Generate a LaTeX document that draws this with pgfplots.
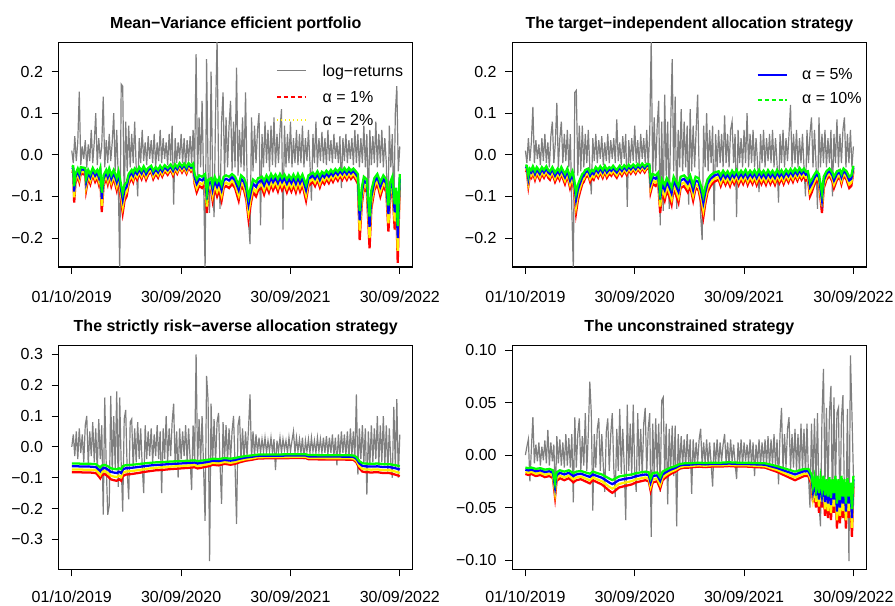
\documentclass[border=0pt]{standalone}
\usepackage{fontspec}
\setmainfont{Liberation Sans}
\usepackage{pgfplots}
\usepackage{pgfplotstable}
\pgfplotsset{compat=1.18}
\definecolor{lrgray}{HTML}{7F7F7F}
\tikzset{legtxt/.style={anchor=west, inner sep=0pt, text height=8.6pt, text depth=0pt, font=\fontsize{12}{14}\selectfont}}

\pgfplotstableread{
d r y b g
0 -0.040 -0.0356 -0.0308 -0.0264
5 -0.042 -0.0374 -0.0323 -0.0277
8 -0.115 -0.1024 -0.0886 -0.0759
12 -0.070 -0.0623 -0.0539 -0.0462
20 -0.050 -0.0445 -0.0385 -0.0330
25 -0.065 -0.0579 -0.0501 -0.0429
30 -0.045 -0.0401 -0.0347 -0.0297
45 -0.048 -0.0427 -0.0370 -0.0317
48 -0.085 -0.0757 -0.0655 -0.0561
55 -0.055 -0.0490 -0.0424 -0.0363
62 -0.070 -0.0623 -0.0539 -0.0462
70 -0.048 -0.0427 -0.0370 -0.0317
78 -0.065 -0.0579 -0.0501 -0.0429
85 -0.055 -0.0490 -0.0424 -0.0363
90 -0.070 -0.0623 -0.0539 -0.0462
95 -0.050 -0.0445 -0.0385 -0.0330
100 -0.138 -0.1228 -0.1063 -0.0911
106 -0.075 -0.0668 -0.0578 -0.0495
115 -0.055 -0.0490 -0.0424 -0.0363
120 -0.070 -0.0623 -0.0539 -0.0462
125 -0.050 -0.0445 -0.0385 -0.0330
132 -0.075 -0.0668 -0.0578 -0.0495
140 -0.055 -0.0490 -0.0424 -0.0363
145 -0.070 -0.0623 -0.0539 -0.0462
150 -0.085 -0.0757 -0.0655 -0.0561
156 -0.060 -0.0534 -0.0462 -0.0396
163 -0.100 -0.0890 -0.0770 -0.0660
170 -0.140 -0.1246 -0.1078 -0.0924
176 -0.110 -0.0979 -0.0847 -0.0726
183 -0.100 -0.0890 -0.0770 -0.0660
190 -0.070 -0.0623 -0.0539 -0.0462
200 -0.055 -0.0490 -0.0424 -0.0363
205 -0.065 -0.0579 -0.0501 -0.0429
210 -0.050 -0.0445 -0.0385 -0.0330
218 -0.060 -0.0534 -0.0462 -0.0396
225 -0.045 -0.0401 -0.0347 -0.0297
233 -0.058 -0.0516 -0.0447 -0.0383
240 -0.042 -0.0374 -0.0323 -0.0277
248 -0.060 -0.0534 -0.0462 -0.0396
255 -0.048 -0.0427 -0.0370 -0.0317
265 -0.040 -0.0356 -0.0308 -0.0264
272 -0.058 -0.0516 -0.0447 -0.0383
280 -0.045 -0.0401 -0.0347 -0.0297
288 -0.055 -0.0490 -0.0424 -0.0363
295 -0.040 -0.0356 -0.0308 -0.0264
302 -0.052 -0.0463 -0.0400 -0.0343
310 -0.038 -0.0338 -0.0293 -0.0251
320 -0.048 -0.0427 -0.0370 -0.0317
330 -0.035 -0.0312 -0.0270 -0.0231
338 -0.050 -0.0445 -0.0385 -0.0330
345 -0.035 -0.0312 -0.0270 -0.0231
352 -0.045 -0.0401 -0.0347 -0.0297
360 -0.030 -0.0267 -0.0231 -0.0198
368 -0.042 -0.0374 -0.0323 -0.0277
375 -0.032 -0.0285 -0.0246 -0.0211
383 -0.045 -0.0401 -0.0347 -0.0297
390 -0.030 -0.0267 -0.0231 -0.0198
398 -0.040 -0.0356 -0.0308 -0.0264
405 -0.032 -0.0285 -0.0246 -0.0211
410 -0.070 -0.0623 -0.0539 -0.0462
417 -0.090 -0.0801 -0.0693 -0.0594
425 -0.075 -0.0668 -0.0578 -0.0495
435 -0.080 -0.0712 -0.0616 -0.0528
445 -0.070 -0.0623 -0.0539 -0.0462
451 -0.140 -0.1246 -0.1078 -0.0924
456 -0.090 -0.0801 -0.0693 -0.0594
465 -0.085 -0.0757 -0.0655 -0.0561
470 -0.110 -0.0979 -0.0847 -0.0726
477 -0.080 -0.0712 -0.0616 -0.0528
485 -0.100 -0.0890 -0.0770 -0.0660
492 -0.085 -0.0757 -0.0655 -0.0561
500 -0.110 -0.0979 -0.0847 -0.0726
507 -0.080 -0.0712 -0.0616 -0.0528
515 -0.075 -0.0668 -0.0578 -0.0495
525 -0.080 -0.0712 -0.0616 -0.0528
535 -0.070 -0.0623 -0.0539 -0.0462
545 -0.080 -0.0712 -0.0616 -0.0528
557 -0.110 -0.0979 -0.0847 -0.0726
565 -0.075 -0.0668 -0.0578 -0.0495
575 -0.085 -0.0757 -0.0655 -0.0561
583 -0.110 -0.0979 -0.0847 -0.0726
590 -0.155 -0.1380 -0.1194 -0.1023
597 -0.120 -0.1068 -0.0924 -0.0792
605 -0.090 -0.0801 -0.0693 -0.0594
615 -0.100 -0.0890 -0.0770 -0.0660
622 -0.085 -0.0757 -0.0655 -0.0561
635 -0.080 -0.0712 -0.0616 -0.0528
642 -0.095 -0.0846 -0.0732 -0.0627
650 -0.075 -0.0668 -0.0578 -0.0495
658 -0.090 -0.0801 -0.0693 -0.0594
665 -0.070 -0.0623 -0.0539 -0.0462
672 -0.085 -0.0757 -0.0655 -0.0561
680 -0.072 -0.0641 -0.0554 -0.0475
688 -0.088 -0.0783 -0.0678 -0.0581
695 -0.070 -0.0623 -0.0539 -0.0462
702 -0.085 -0.0757 -0.0655 -0.0561
710 -0.072 -0.0641 -0.0554 -0.0475
718 -0.090 -0.0801 -0.0693 -0.0594
725 -0.075 -0.0668 -0.0578 -0.0495
733 -0.088 -0.0783 -0.0678 -0.0581
740 -0.072 -0.0641 -0.0554 -0.0475
748 -0.090 -0.0801 -0.0693 -0.0594
755 -0.070 -0.0623 -0.0539 -0.0462
762 -0.088 -0.0783 -0.0678 -0.0581
770 -0.072 -0.0641 -0.0554 -0.0475
782 -0.110 -0.0979 -0.0847 -0.0726
790 -0.075 -0.0668 -0.0578 -0.0495
805 -0.065 -0.0579 -0.0501 -0.0429
812 -0.075 -0.0668 -0.0578 -0.0495
820 -0.060 -0.0534 -0.0462 -0.0396
828 -0.078 -0.0694 -0.0601 -0.0515
835 -0.062 -0.0552 -0.0477 -0.0409
843 -0.070 -0.0623 -0.0539 -0.0462
850 -0.058 -0.0516 -0.0447 -0.0383
858 -0.068 -0.0605 -0.0524 -0.0449
865 -0.055 -0.0490 -0.0424 -0.0363
872 -0.065 -0.0579 -0.0501 -0.0429
880 -0.052 -0.0463 -0.0400 -0.0343
888 -0.062 -0.0552 -0.0477 -0.0409
895 -0.050 -0.0445 -0.0385 -0.0330
903 -0.060 -0.0534 -0.0462 -0.0396
910 -0.048 -0.0427 -0.0370 -0.0317
918 -0.060 -0.0534 -0.0462 -0.0396
925 -0.048 -0.0427 -0.0370 -0.0317
932 -0.058 -0.0516 -0.0447 -0.0383
940 -0.050 -0.0445 -0.0385 -0.0330
948 -0.060 -0.0534 -0.0462 -0.0396
955 -0.070 -0.0623 -0.0539 -0.0462
961 -0.205 -0.1825 -0.1579 -0.1353
968 -0.120 -0.1068 -0.0924 -0.0792
975 -0.080 -0.0712 -0.0616 -0.0528
985 -0.090 -0.0801 -0.0693 -0.0594
994 -0.225 -0.2003 -0.1733 -0.1485
1000 -0.130 -0.1157 -0.1001 -0.0858
1010 -0.085 -0.0757 -0.0655 -0.0561
1020 -0.070 -0.0623 -0.0539 -0.0462
1030 -0.100 -0.0890 -0.0770 -0.0660
1040 -0.075 -0.0668 -0.0578 -0.0495
1050 -0.090 -0.0801 -0.0693 -0.0594
1057 -0.185 -0.1647 -0.1425 -0.1221
1063 -0.100 -0.0890 -0.0770 -0.0660
1070 -0.080 -0.0712 -0.0616 -0.0528
1078 -0.180 -0.1602 -0.1386 -0.1188
1083 -0.120 -0.1068 -0.0924 -0.0792
1088 -0.260 -0.2314 -0.2002 -0.1716
1092 -0.150 -0.1335 -0.1155 -0.0990
1095 -0.070 -0.0623 -0.0539 -0.0462
}\varA

\pgfplotstableread{
d r y b g
0 -0.038 -0.0338 -0.0293 -0.0251
5 -0.040 -0.0356 -0.0308 -0.0264
10 -0.075 -0.0668 -0.0578 -0.0495
15 -0.050 -0.0445 -0.0385 -0.0330
20 -0.055 -0.0490 -0.0424 -0.0363
25 -0.042 -0.0374 -0.0323 -0.0277
32 -0.060 -0.0534 -0.0462 -0.0396
38 -0.045 -0.0401 -0.0347 -0.0297
48 -0.060 -0.0534 -0.0462 -0.0396
55 -0.045 -0.0401 -0.0347 -0.0297
62 -0.055 -0.0490 -0.0424 -0.0363
70 -0.042 -0.0374 -0.0323 -0.0277
76 -0.055 -0.0490 -0.0424 -0.0363
82 -0.060 -0.0534 -0.0462 -0.0396
90 -0.045 -0.0401 -0.0347 -0.0297
99 -0.065 -0.0579 -0.0501 -0.0429
108 -0.050 -0.0445 -0.0385 -0.0330
114 -0.060 -0.0534 -0.0462 -0.0396
120 -0.045 -0.0401 -0.0347 -0.0297
126 -0.058 -0.0516 -0.0447 -0.0383
132 -0.070 -0.0623 -0.0539 -0.0462
140 -0.050 -0.0445 -0.0385 -0.0330
149 -0.080 -0.0712 -0.0616 -0.0528
157 -0.060 -0.0534 -0.0462 -0.0396
163 -0.090 -0.0801 -0.0693 -0.0594
169 -0.140 -0.1246 -0.1078 -0.0924
175 -0.110 -0.0979 -0.0847 -0.0726
182 -0.090 -0.0801 -0.0693 -0.0594
190 -0.070 -0.0623 -0.0539 -0.0462
195 -0.065 -0.0579 -0.0501 -0.0429
200 -0.055 -0.0490 -0.0424 -0.0363
210 -0.050 -0.0445 -0.0385 -0.0330
216 -0.065 -0.0579 -0.0501 -0.0429
222 -0.055 -0.0490 -0.0424 -0.0363
228 -0.060 -0.0534 -0.0462 -0.0396
235 -0.045 -0.0401 -0.0347 -0.0297
243 -0.055 -0.0490 -0.0424 -0.0363
250 -0.042 -0.0374 -0.0323 -0.0277
258 -0.055 -0.0490 -0.0424 -0.0363
265 -0.040 -0.0356 -0.0308 -0.0264
272 -0.055 -0.0490 -0.0424 -0.0363
280 -0.045 -0.0401 -0.0347 -0.0297
287 -0.050 -0.0445 -0.0385 -0.0330
293 -0.040 -0.0356 -0.0308 -0.0264
300 -0.050 -0.0445 -0.0385 -0.0330
305 -0.055 -0.0490 -0.0424 -0.0363
315 -0.040 -0.0356 -0.0308 -0.0264
322 -0.050 -0.0445 -0.0385 -0.0330
330 -0.038 -0.0338 -0.0293 -0.0251
338 -0.048 -0.0427 -0.0370 -0.0317
345 -0.036 -0.0320 -0.0277 -0.0238
352 -0.045 -0.0401 -0.0347 -0.0297
360 -0.035 -0.0312 -0.0270 -0.0231
368 -0.045 -0.0401 -0.0347 -0.0297
375 -0.034 -0.0303 -0.0262 -0.0224
383 -0.042 -0.0374 -0.0323 -0.0277
390 -0.032 -0.0285 -0.0246 -0.0211
398 -0.042 -0.0374 -0.0323 -0.0277
405 -0.033 -0.0294 -0.0254 -0.0218
414 -0.035 -0.0312 -0.0270 -0.0231
418 -0.090 -0.0801 -0.0693 -0.0594
425 -0.070 -0.0623 -0.0539 -0.0462
435 -0.075 -0.0668 -0.0578 -0.0495
443 -0.065 -0.0579 -0.0501 -0.0429
450 -0.140 -0.1246 -0.1078 -0.0924
456 -0.090 -0.0801 -0.0693 -0.0594
465 -0.110 -0.0979 -0.0847 -0.0726
472 -0.085 -0.0757 -0.0655 -0.0561
480 -0.100 -0.0890 -0.0770 -0.0660
488 -0.120 -0.1068 -0.0924 -0.0792
495 -0.080 -0.0712 -0.0616 -0.0528
511 -0.115 -0.1024 -0.0886 -0.0759
518 -0.080 -0.0712 -0.0616 -0.0528
530 -0.075 -0.0668 -0.0578 -0.0495
542 -0.090 -0.0801 -0.0693 -0.0594
550 -0.075 -0.0668 -0.0578 -0.0495
560 -0.110 -0.0979 -0.0847 -0.0726
568 -0.080 -0.0712 -0.0616 -0.0528
578 -0.085 -0.0757 -0.0655 -0.0561
588 -0.120 -0.1068 -0.0924 -0.0792
594 -0.150 -0.1335 -0.1155 -0.0990
600 -0.120 -0.1068 -0.0924 -0.0792
608 -0.090 -0.0801 -0.0693 -0.0594
618 -0.075 -0.0668 -0.0578 -0.0495
630 -0.065 -0.0579 -0.0501 -0.0429
645 -0.060 -0.0534 -0.0462 -0.0396
652 -0.075 -0.0668 -0.0578 -0.0495
660 -0.058 -0.0516 -0.0447 -0.0383
668 -0.072 -0.0641 -0.0554 -0.0475
675 -0.060 -0.0534 -0.0462 -0.0396
683 -0.075 -0.0668 -0.0578 -0.0495
690 -0.058 -0.0516 -0.0447 -0.0383
697 -0.070 -0.0623 -0.0539 -0.0462
705 -0.055 -0.0490 -0.0424 -0.0363
712 -0.072 -0.0641 -0.0554 -0.0475
720 -0.058 -0.0516 -0.0447 -0.0383
727 -0.070 -0.0623 -0.0539 -0.0462
735 -0.055 -0.0490 -0.0424 -0.0363
742 -0.072 -0.0641 -0.0554 -0.0475
750 -0.058 -0.0516 -0.0447 -0.0383
758 -0.070 -0.0623 -0.0539 -0.0462
765 -0.056 -0.0498 -0.0431 -0.0370
772 -0.072 -0.0641 -0.0554 -0.0475
780 -0.055 -0.0490 -0.0424 -0.0363
788 -0.070 -0.0623 -0.0539 -0.0462
795 -0.058 -0.0516 -0.0447 -0.0383
803 -0.072 -0.0641 -0.0554 -0.0475
810 -0.056 -0.0498 -0.0431 -0.0370
818 -0.070 -0.0623 -0.0539 -0.0462
825 -0.058 -0.0516 -0.0447 -0.0383
833 -0.072 -0.0641 -0.0554 -0.0475
840 -0.055 -0.0490 -0.0424 -0.0363
848 -0.068 -0.0605 -0.0524 -0.0449
855 -0.056 -0.0498 -0.0431 -0.0370
862 -0.070 -0.0623 -0.0539 -0.0462
870 -0.054 -0.0481 -0.0416 -0.0356
878 -0.066 -0.0587 -0.0508 -0.0436
885 -0.052 -0.0463 -0.0400 -0.0343
893 -0.065 -0.0579 -0.0501 -0.0429
900 -0.050 -0.0445 -0.0385 -0.0330
908 -0.062 -0.0552 -0.0477 -0.0409
915 -0.048 -0.0427 -0.0370 -0.0317
922 -0.060 -0.0534 -0.0462 -0.0396
930 -0.050 -0.0445 -0.0385 -0.0330
936 -0.062 -0.0552 -0.0477 -0.0409
943 -0.060 -0.0534 -0.0462 -0.0396
950 -0.100 -0.0890 -0.0770 -0.0660
956 -0.090 -0.0801 -0.0693 -0.0594
963 -0.075 -0.0668 -0.0578 -0.0495
972 -0.060 -0.0534 -0.0462 -0.0396
980 -0.070 -0.0623 -0.0539 -0.0462
990 -0.140 -0.1246 -0.1078 -0.0924
996 -0.080 -0.0712 -0.0616 -0.0528
1005 -0.060 -0.0534 -0.0462 -0.0396
1015 -0.050 -0.0445 -0.0385 -0.0330
1025 -0.065 -0.0579 -0.0501 -0.0429
1030 -0.080 -0.0712 -0.0616 -0.0528
1040 -0.060 -0.0534 -0.0462 -0.0396
1050 -0.055 -0.0490 -0.0424 -0.0363
1055 -0.070 -0.0623 -0.0539 -0.0462
1062 -0.050 -0.0445 -0.0385 -0.0330
1072 -0.060 -0.0534 -0.0462 -0.0396
1081 -0.080 -0.0712 -0.0616 -0.0528
1088 -0.075 -0.0668 -0.0578 -0.0495
1095 -0.040 -0.0356 -0.0308 -0.0264
}\varB

\pgfplotstableread{
d r y b g
0 -0.082 -0.0730 -0.0631 -0.0541
20 -0.082 -0.0730 -0.0631 -0.0541
40 -0.083 -0.0739 -0.0639 -0.0548
60 -0.083 -0.0739 -0.0639 -0.0548
80 -0.085 -0.0757 -0.0655 -0.0561
90 -0.095 -0.0846 -0.0732 -0.0627
95 -0.102 -0.0908 -0.0785 -0.0673
100 -0.092 -0.0819 -0.0708 -0.0607
110 -0.088 -0.0783 -0.0678 -0.0581
120 -0.095 -0.0846 -0.0732 -0.0627
130 -0.105 -0.0935 -0.0809 -0.0693
140 -0.108 -0.0961 -0.0832 -0.0713
150 -0.110 -0.0979 -0.0847 -0.0726
158 -0.105 -0.0935 -0.0809 -0.0693
165 -0.110 -0.0979 -0.0847 -0.0726
170 -0.095 -0.0846 -0.0732 -0.0627
180 -0.090 -0.0801 -0.0693 -0.0594
200 -0.088 -0.0783 -0.0678 -0.0581
220 -0.085 -0.0757 -0.0655 -0.0561
250 -0.080 -0.0712 -0.0616 -0.0528
280 -0.076 -0.0676 -0.0585 -0.0502
300 -0.075 -0.0668 -0.0578 -0.0495
330 -0.072 -0.0641 -0.0554 -0.0475
360 -0.070 -0.0623 -0.0539 -0.0462
390 -0.068 -0.0605 -0.0524 -0.0449
410 -0.066 -0.0587 -0.0508 -0.0436
420 -0.070 -0.0623 -0.0539 -0.0462
440 -0.066 -0.0587 -0.0508 -0.0436
460 -0.062 -0.0552 -0.0477 -0.0409
470 -0.058 -0.0516 -0.0447 -0.0383
490 -0.060 -0.0534 -0.0462 -0.0396
510 -0.055 -0.0490 -0.0424 -0.0363
530 -0.058 -0.0516 -0.0447 -0.0383
545 -0.055 -0.0490 -0.0424 -0.0363
560 -0.050 -0.0445 -0.0385 -0.0330
580 -0.045 -0.0401 -0.0347 -0.0297
600 -0.042 -0.0374 -0.0323 -0.0277
620 -0.038 -0.0338 -0.0293 -0.0251
650 -0.037 -0.0329 -0.0285 -0.0244
700 -0.037 -0.0329 -0.0285 -0.0244
750 -0.036 -0.0320 -0.0277 -0.0238
780 -0.036 -0.0320 -0.0277 -0.0238
790 -0.040 -0.0356 -0.0308 -0.0264
850 -0.041 -0.0365 -0.0316 -0.0271
900 -0.041 -0.0365 -0.0316 -0.0271
940 -0.042 -0.0374 -0.0323 -0.0277
950 -0.050 -0.0445 -0.0385 -0.0330
960 -0.070 -0.0623 -0.0539 -0.0462
970 -0.080 -0.0712 -0.0616 -0.0528
980 -0.082 -0.0730 -0.0631 -0.0541
1000 -0.083 -0.0739 -0.0639 -0.0548
1020 -0.082 -0.0730 -0.0631 -0.0541
1040 -0.085 -0.0757 -0.0655 -0.0561
1060 -0.085 -0.0757 -0.0655 -0.0561
1080 -0.090 -0.0801 -0.0693 -0.0594
1095 -0.095 -0.0846 -0.0732 -0.0627
}\varC

\pgfplotstableread{
d r y b g
0 -0.018 -0.0160 -0.0139 -0.0119
10 -0.019 -0.0169 -0.0146 -0.0125
20 -0.018 -0.0160 -0.0139 -0.0119
35 -0.020 -0.0178 -0.0154 -0.0132
50 -0.019 -0.0169 -0.0146 -0.0125
65 -0.021 -0.0187 -0.0162 -0.0139
80 -0.020 -0.0178 -0.0154 -0.0132
92 -0.022 -0.0196 -0.0169 -0.0145
99 -0.040 -0.0356 -0.0308 -0.0264
104 -0.025 -0.0223 -0.0193 -0.0165
115 -0.022 -0.0196 -0.0169 -0.0145
130 -0.024 -0.0214 -0.0185 -0.0158
145 -0.022 -0.0196 -0.0169 -0.0145
160 -0.026 -0.0231 -0.0200 -0.0172
170 -0.024 -0.0214 -0.0185 -0.0158
185 -0.023 -0.0205 -0.0177 -0.0152
200 -0.025 -0.0223 -0.0193 -0.0165
215 -0.027 -0.0240 -0.0208 -0.0178
225 -0.024 -0.0214 -0.0185 -0.0158
240 -0.026 -0.0231 -0.0200 -0.0172
255 -0.028 -0.0249 -0.0216 -0.0185
268 -0.031 -0.0276 -0.0239 -0.0205
280 -0.034 -0.0303 -0.0262 -0.0224
290 -0.036 -0.0320 -0.0277 -0.0238
300 -0.034 -0.0303 -0.0262 -0.0224
312 -0.031 -0.0276 -0.0239 -0.0205
325 -0.030 -0.0267 -0.0231 -0.0198
340 -0.029 -0.0258 -0.0223 -0.0191
355 -0.028 -0.0249 -0.0216 -0.0185
370 -0.026 -0.0231 -0.0200 -0.0172
385 -0.025 -0.0223 -0.0193 -0.0165
400 -0.024 -0.0214 -0.0185 -0.0158
412 -0.025 -0.0223 -0.0193 -0.0165
418 -0.034 -0.0303 -0.0262 -0.0224
425 -0.026 -0.0231 -0.0200 -0.0172
440 -0.025 -0.0223 -0.0193 -0.0165
450 -0.032 -0.0285 -0.0246 -0.0211
458 -0.024 -0.0214 -0.0185 -0.0158
470 -0.021 -0.0187 -0.0162 -0.0139
485 -0.018 -0.0160 -0.0139 -0.0119
500 -0.016 -0.0142 -0.0123 -0.0106
515 -0.013 -0.0116 -0.0100 -0.0086
530 -0.012 -0.0107 -0.0092 -0.0079
545 -0.012 -0.0107 -0.0092 -0.0079
560 -0.0115 -0.0102 -0.0089 -0.0076
580 -0.011 -0.0098 -0.0085 -0.0073
600 -0.0115 -0.0102 -0.0089 -0.0076
620 -0.011 -0.0098 -0.0085 -0.0073
650 -0.011 -0.0098 -0.0085 -0.0073
680 -0.0105 -0.0093 -0.0081 -0.0069
710 -0.011 -0.0098 -0.0085 -0.0073
740 -0.011 -0.0098 -0.0085 -0.0073
770 -0.0115 -0.0102 -0.0089 -0.0076
800 -0.012 -0.0107 -0.0092 -0.0079
820 -0.014 -0.0125 -0.0108 -0.0092
840 -0.016 -0.0142 -0.0123 -0.0106
855 -0.018 -0.0160 -0.0139 -0.0119
870 -0.020 -0.0178 -0.0154 -0.0132
885 -0.022 -0.0196 -0.0169 -0.0145
900 -0.024 -0.0214 -0.0185 -0.0158
915 -0.022 -0.0196 -0.0169 -0.0145
930 -0.020 -0.0178 -0.0154 -0.0132
945 -0.020 -0.0178 -0.0154 -0.0132
955 -0.028 -0.0249 -0.0216 -0.0185
960 -0.045 -0.0401 -0.0347 -0.0297
965 -0.032 -0.0285 -0.0246 -0.0211
970 -0.050 -0.0445 -0.0385 -0.0330
975 -0.030 -0.0267 -0.0231 -0.0198
980 -0.055 -0.0490 -0.0424 -0.0363
985 -0.033 -0.0294 -0.0254 -0.0218
990 -0.050 -0.0445 -0.0385 -0.0330
995 -0.030 -0.0267 -0.0231 -0.0198
1000 -0.058 -0.0516 -0.0447 -0.0383
1005 -0.035 -0.0312 -0.0270 -0.0231
1010 -0.060 -0.0534 -0.0462 -0.0396
1015 -0.032 -0.0285 -0.0246 -0.0211
1020 -0.062 -0.0552 -0.0477 -0.0409
1025 -0.035 -0.0312 -0.0270 -0.0231
1030 -0.055 -0.0490 -0.0424 -0.0363
1035 -0.030 -0.0267 -0.0231 -0.0198
1040 -0.070 -0.0623 -0.0539 -0.0462
1045 -0.035 -0.0312 -0.0270 -0.0231
1050 -0.065 -0.0579 -0.0501 -0.0429
1055 -0.030 -0.0267 -0.0231 -0.0198
1060 -0.060 -0.0534 -0.0462 -0.0396
1065 -0.035 -0.0312 -0.0270 -0.0231
1070 -0.070 -0.0623 -0.0539 -0.0462
1075 -0.033 -0.0294 -0.0254 -0.0218
1080 -0.060 -0.0534 -0.0462 -0.0396
1085 -0.040 -0.0356 -0.0308 -0.0264
1090 -0.078 -0.0694 -0.0601 -0.0515
1095 -0.030 -0.0267 -0.0231 -0.0198
}\varD

\pgfplotsset{
  rpanel/.style={
    scale only axis, width=265.7pt, height=168.6pt,
    xmin=-43.8, xmax=1138.8,
    xtick={0,365,730,1095},
    xticklabels={01/10/2019,30/09/2020,30/09/2021,30/09/2022},
    xtick pos=bottom, ytick pos=left,
    tick align=outside, major tick length=5.25pt,
    tick style={black, line width=0.6pt},
    axis line style={black, line width=0.8pt},
    ticklabel style={font=\fontsize{12}{14}\selectfont},
    xticklabel style={yshift=-9.5pt},
    yticklabel style={xshift=-3pt},
    title style={font=\bfseries\fontsize{12}{14}\selectfont, at={(0.5,1)}, anchor=base, yshift=4.5pt},
    clip=true,
    legend cell align=left,
  },
  lr/.style={color=lrgray, line width=0.9pt},
  vr/.style={color=red, line width=1.7pt},
  vy/.style={color=yellow, line width=1.7pt},
  vb/.style={color=blue, line width=1.7pt},
  vg/.style={color=green, line width=1.7pt},
}

\begin{document}
\begin{tikzpicture}
\useasboundingbox (0,0) rectangle (671.25pt,454.5pt);

% Panel 1
\begin{axis}[rpanel, at={(44.0pt,254.25pt)}, anchor=south west,
  title={Mean−Variance efficient portfolio},
  ymin=-0.270, ymax=0.271,
  ytick={-0.2,-0.1,0,0.1,0.2}, yticklabels={−0.2,−0.1,0.0,0.1,0.2},
]
\addplot[lr] coordinates {
(0,0.01)(5,-0.02)(10,0.045)(15,-0.015)(20,0.03)(25,0.152)(30,-0.025)(35,0.02)(40,-0.01)(45,0.035)
(50,-0.03)(55,0.025)(60,-0.015)(65,0.06)(70,-0.02)(75,0.03)(80,0.10)(85,-0.025)(90,0.04)(95,-0.01)
(100,0.02)(105,0.14)(110,-0.03)(115,0.035)(120,-0.02)(125,0.05)(130,-0.015)(135,0.03)(140,0.10)(145,-0.04)
(150,0.06)(155,-0.05)(160,-0.28)(165,0.17)(170,0.165)(175,-0.12)(180,0.08)(185,-0.04)(190,0.07)(195,-0.03)
(200,0.05)(205,-0.02)(210,0.08)(215,-0.03)(220,-0.10)(225,0.04)(230,-0.02)(235,0.06)(240,-0.015)(245,0.03)
(250,-0.025)(255,0.045)(260,-0.01)(265,0.035)(270,-0.02)(275,0.05)(280,-0.03)(285,0.03)(290,-0.015)(295,0.06)
(300,-0.02)(305,0.04)(310,-0.01)(315,0.03)(320,-0.025)(325,0.05)(330,-0.015)(335,0.07)(340,-0.12)(345,0.04)
(350,-0.02)(355,0.03)(360,-0.01)(365,0.05)(370,-0.02)(375,0.04)(380,-0.03)(385,0.035)(390,-0.015)(395,0.045)
(400,-0.02)(405,0.06)(410,-0.04)(415,0.242)(420,-0.05)(425,0.09)(430,-0.03)(435,0.13)(440,-0.06)(445,-0.28)
(450,0.23)(455,-0.04)(460,-0.14)(465,0.20)(470,-0.05)(475,-0.15)(480,0.10)(485,0.28)(490,-0.04)(495,-0.13)
(500,0.08)(505,0.15)(510,-0.05)(515,0.09)(520,-0.03)(525,0.07)(530,0.13)(535,-0.04)(540,0.08)(545,-0.03)
(550,0.21)(555,-0.05)(560,0.06)(565,-0.03)(570,0.09)(575,-0.04)(580,0.15)(585,-0.05)(590,-0.16)(595,-0.215)
(600,0.09)(605,-0.04)(610,0.07)(615,-0.02)(620,0.06)(625,0.10)(630,-0.17)(635,0.05)(640,-0.03)(645,0.08)
(650,-0.02)(655,0.06)(660,-0.04)(665,0.07)(670,-0.025)(675,0.09)(680,-0.03)(685,0.05)(690,-0.02)(695,0.06)
(700,0.11)(705,-0.18)(710,0.07)(715,-0.03)(720,0.05)(725,-0.02)(730,0.08)(735,-0.03)(740,0.04)(745,-0.02)
(750,0.06)(755,-0.025)(760,0.05)(765,-0.02)(770,0.07)(775,-0.03)(780,0.04)(785,-0.015)(790,0.06)(795,-0.02)
(800,-0.11)(805,0.05)(810,-0.02)(815,0.08)(820,-0.03)(825,0.04)(830,-0.015)(835,0.055)(840,-0.02)(845,0.04)
(850,-0.025)(855,0.06)(860,-0.015)(865,0.035)(870,-0.02)(875,0.05)(880,-0.01)(885,0.03)(890,-0.02)(895,0.045)
(900,-0.08)(905,0.04)(910,-0.015)(915,0.05)(920,-0.02)(925,0.035)(930,-0.01)(935,0.04)(940,-0.025)(945,0.06)
(950,-0.02)(955,0.05)(960,-0.03)(965,0.04)(970,-0.02)(975,0.07)(980,-0.03)(985,0.05)(990,-0.12)(995,0.06)
(1000,-0.025)(1005,0.045)(1010,-0.02)(1015,0.08)(1020,-0.03)(1025,0.05)(1030,-0.02)(1035,0.06)(1040,-0.03)(1045,0.04)
(1050,-0.02)(1055,-0.165)(1060,0.07)(1065,-0.03)(1070,0.05)(1075,-0.15)(1080,0.10)(1085,0.165)(1090,-0.04)(1095,0.02)
};
\addplot[vr] table[x=d,y=r]{\varA};
\addplot[vy] table[x=d,y=y]{\varA};
\addplot[vb] table[x=d,y=b]{\varA};
\addplot[vg] table[x=d,y=g]{\varA};
% legend key (not data)
\draw[color=lrgray, line width=0.9pt] (rel axis cs:0.616,0.8724) -- ++(21.75pt,0pt);
\node[legtxt] at (rel axis cs:0.7444,0.8724) {log−returns};
\draw[color=red, line width=1.1pt, dash pattern=on 3pt off 2.2pt] (rel axis cs:0.616,0.7569) -- ++(21.75pt,0pt);
\node[legtxt] at (rel axis cs:0.7444,0.7569) {α = 1\%};
\draw[color=yellow, line width=1pt, dash pattern=on 1pt off 2pt] (rel axis cs:0.616,0.6533) -- ++(21.75pt,0pt);
\node[legtxt] at (rel axis cs:0.7444,0.6533) {α = 2\%};
\end{axis}

% Panel 2
\begin{axis}[rpanel, at={(384.2pt,254.25pt)}, anchor=south west,
  title={The target−independent allocation strategy},
  ymin=-0.270, ymax=0.271,
  ytick={-0.2,-0.1,0,0.1,0.2}, yticklabels={−0.2,−0.1,0.0,0.1,0.2},
  legend style={draw=none, fill=none, at={(rel axis cs:0.690,0.89)}, anchor=north west,
    font=\fontsize{12}{14}\selectfont, inner sep=0pt, row sep=6.5pt, column sep=11pt,
    nodes={inner sep=0pt, text height=9pt, text depth=3pt}},
]
\addplot[lr, forget plot] coordinates {
(0,0.01)(5,-0.02)(10,0.04)(15,-0.015)(20,0.03)(25,0.115)(30,-0.02)(35,0.035)(40,-0.01)(45,0.025)
(50,-0.025)(55,0.04)(60,-0.015)(65,0.05)(70,-0.02)(75,0.03)(80,-0.03)(85,0.045)(90,0.08)(95,-0.02)
(100,0.03)(105,0.125)(110,-0.03)(115,0.04)(120,0.08)(125,-0.02)(130,0.05)(135,-0.015)(140,0.06)(145,-0.03)
(150,0.05)(155,-0.13)(160,-0.28)(165,0.15)(170,0.155)(175,-0.05)(180,0.07)(185,-0.04)(190,0.07)(195,-0.03)
(200,0.05)(205,-0.02)(210,0.06)(215,-0.03)(220,-0.095)(225,0.04)(230,-0.015)(235,0.05)(240,-0.02)(245,0.035)
(250,-0.01)(255,0.045)(260,-0.025)(265,0.03)(270,-0.015)(275,0.05)(280,-0.02)(285,0.035)(290,-0.01)(295,0.04)
(300,-0.02)(305,0.085)(310,-0.015)(315,0.03)(320,-0.025)(325,0.045)(330,-0.01)(335,0.05)(340,-0.125)(345,0.035)
(350,-0.02)(355,0.04)(360,-0.015)(365,0.07)(370,-0.02)(375,0.035)(380,-0.025)(385,0.05)(390,-0.01)(395,0.04)
(400,-0.02)(405,0.06)(410,-0.03)(415,0.05)(420,0.28)(425,-0.06)(430,0.09)(435,-0.04)(440,0.07)(445,0.13)
(450,-0.17)(455,0.08)(460,-0.135)(465,0.145)(470,-0.05)(475,0.08)(480,-0.13)(485,0.07)(490,0.23)(495,-0.04)
(500,0.14)(505,-0.13)(510,0.06)(515,-0.03)(520,0.11)(525,-0.04)(530,0.08)(535,-0.03)(540,0.07)(545,-0.12)
(550,0.11)(555,-0.04)(560,0.07)(565,-0.03)(570,0.06)(575,0.145)(580,-0.04)(585,-0.145)(590,-0.205)(595,0.07)
(600,-0.03)(605,0.10)(610,-0.04)(615,0.06)(620,-0.02)(625,0.07)(630,-0.16)(635,0.05)(640,-0.03)(645,0.06)
(650,-0.02)(655,0.05)(660,-0.03)(665,0.095)(670,-0.02)(675,0.05)(680,-0.03)(685,0.06)(690,0.08)(695,-0.02)
(700,0.05)(705,-0.15)(710,0.06)(715,-0.02)(720,0.04)(725,-0.03)(730,0.06)(735,-0.02)(740,0.10)(745,-0.03)
(750,0.05)(755,-0.02)(760,0.06)(765,-0.03)(770,0.04)(775,-0.02)(780,-0.09)(785,0.05)(790,-0.02)(795,0.06)
(800,-0.03)(805,0.04)(810,-0.015)(815,0.05)(820,-0.02)(825,0.06)(830,-0.03)(835,0.04)(840,-0.02)(845,-0.115)
(850,0.05)(855,-0.02)(860,0.06)(865,-0.03)(870,0.04)(875,-0.015)(880,0.05)(885,0.12)(890,-0.03)(895,0.05)
(900,-0.02)(905,0.06)(910,-0.03)(915,0.04)(920,-0.02)(925,0.05)(930,-0.03)(935,-0.10)(940,0.06)(945,-0.02)
(950,0.05)(955,0.09)(960,-0.03)(965,0.06)(970,-0.02)(975,-0.13)(980,0.09)(985,-0.03)(990,0.05)(995,-0.02)
(1000,0.06)(1005,-0.03)(1010,0.04)(1015,-0.02)(1020,0.06)(1025,-0.10)(1030,0.05)(1035,-0.02)(1040,0.085)(1045,-0.03)
(1050,0.05)(1055,-0.02)(1060,0.06)(1065,0.09)(1070,-0.03)(1075,0.05)(1080,-0.02)(1085,0.06)(1090,-0.03)(1095,0.02)
};
\addplot[vr, forget plot] table[x=d,y=r]{\varB};
\addplot[vy, forget plot] table[x=d,y=y]{\varB};
\addplot[vb, legend image code/.code={\draw[draw=blue, line width=1.1pt] (0pt,0pt) -- (21.75pt,0pt);}] table[x=d,y=b]{\varB};
\addlegendentry{α = 5\%}
\addplot[vg, legend image code/.code={\draw[draw=green, line width=1pt, dash pattern=on 3pt off 2.2pt] (0pt,0pt) -- (21.75pt,0pt);}] table[x=d,y=g]{\varB};
\addlegendentry{α = 10\%}
\end{axis}

% Panel 3
\begin{axis}[rpanel, at={(44.0pt,27.5pt)}, anchor=south west, height=168.2pt,
  xticklabel style={yshift=2pt},
  title={The strictly risk−averse allocation strategy},
  ymin=-0.397, ymax=0.330,
  ytick={-0.3,-0.2,-0.1,0,0.1,0.2,0.3}, yticklabels={−0.3,−0.2,−0.1,0.0,0.1,0.2,0.3},
]
\addplot[lr] coordinates {
(0,0.0)(5,0.04)(10,-0.03)(15,0.05)(20,-0.04)(25,0.06)(30,-0.02)(35,0.04)(40,-0.05)(45,0.07)
(50,0.10)(55,-0.06)(60,0.05)(65,-0.03)(70,0.08)(75,-0.05)(80,0.06)(85,-0.08)(90,0.09)(95,-0.04)
(100,0.07)(105,-0.22)(110,0.16)(115,-0.06)(120,-0.22)(125,-0.19)(130,0.165)(135,-0.08)(140,0.10)(145,-0.07)
(150,0.18)(155,-0.13)(160,0.16)(165,-0.06)(170,-0.21)(175,0.09)(180,0.12)(185,-0.08)(190,-0.17)(195,0.08)
(200,0.09)(205,-0.07)(210,0.06)(215,-0.05)(220,0.08)(225,-0.04)(230,0.06)(235,-0.06)(240,-0.15)(245,0.07)
(250,-0.04)(255,0.05)(260,-0.03)(265,0.06)(270,-0.05)(275,0.04)(280,-0.03)(285,0.07)(290,-0.04)(295,0.05)
(300,-0.15)(305,0.06)(310,-0.04)(315,0.10)(320,-0.05)(325,0.06)(330,-0.03)(335,0.08)(340,0.14)(345,-0.06)
(350,0.05)(355,-0.10)(360,0.06)(365,-0.04)(370,0.05)(375,-0.03)(380,0.07)(385,-0.05)(390,0.06)(395,-0.04)
(400,-0.14)(405,0.07)(410,-0.05)(415,0.30)(420,-0.06)(425,0.09)(430,-0.05)(435,0.10)(440,-0.07)(445,-0.24)
(450,0.23)(455,0.15)(460,-0.37)(465,0.14)(470,-0.06)(475,0.09)(480,-0.05)(485,0.08)(490,0.11)(495,-0.06)
(500,-0.185)(505,0.08)(510,-0.04)(515,0.07)(520,-0.05)(525,0.06)(530,-0.04)(535,0.05)(540,0.10)(545,-0.06)
(550,-0.25)(555,0.07)(560,0.10)(565,-0.05)(570,0.06)(575,-0.04)(580,0.05)(585,-0.03)(590,0.06)(595,0.17)
(600,-0.04)(605,0.05)(610,-0.03)(615,0.04)(620,-0.02)(625,0.03)(630,-0.02)(635,0.025)(640,-0.015)(645,0.03)
(650,-0.02)(655,0.02)(660,-0.015)(665,0.03)(670,-0.02)(675,0.025)(680,-0.075)(685,0.02)(690,-0.015)(695,0.03)
(700,-0.02)(705,0.025)(710,-0.01)(715,0.02)(720,-0.02)(725,0.03)(730,-0.015)(735,0.02)(740,0.05)(745,-0.02)
(750,0.03)(755,-0.015)(760,0.025)(765,-0.02)(770,0.03)(775,-0.04)(780,0.02)(785,-0.015)(790,0.025)(795,-0.02)
(800,0.03)(805,-0.015)(810,0.02)(815,-0.02)(820,0.03)(825,-0.015)(830,0.025)(835,-0.02)(840,0.03)(845,-0.02)
(850,0.035)(855,-0.025)(860,0.03)(865,-0.02)(870,0.04)(875,-0.03)(880,0.03)(885,-0.06)(890,0.04)(895,-0.03)
(900,0.05)(905,-0.02)(910,0.04)(915,-0.03)(920,0.05)(925,-0.04)(930,0.06)(935,-0.03)(940,0.05)(945,-0.04)
(950,0.17)(955,-0.09)(960,0.06)(965,-0.04)(970,0.07)(975,-0.05)(980,0.06)(985,-0.155)(990,0.05)(995,-0.06)
(1000,0.07)(1005,-0.05)(1010,0.06)(1015,-0.04)(1020,0.10)(1025,-0.06)(1030,0.07)(1035,-0.05)(1040,0.10)(1045,-0.06)
(1050,0.07)(1055,-0.08)(1060,0.06)(1065,-0.05)(1070,-0.10)(1075,0.13)(1080,-0.07)(1085,0.155)(1090,-0.10)(1095,0.04)
};
\addplot[vr] table[x=d,y=r]{\varC};
\addplot[vy] table[x=d,y=y]{\varC};
\addplot[vb] table[x=d,y=b]{\varC};
\addplot[vg] table[x=d,y=g]{\varC};
\end{axis}

% Panel 4
\begin{axis}[rpanel, at={(384.2pt,27.5pt)}, anchor=south west, height=168.2pt,
  xticklabel style={yshift=2pt},
  title={The unconstrained strategy},
  ymin=-0.1089, ymax=0.1048,
  ytick={-0.1,-0.05,0,0.05,0.1}, yticklabels={−0.10,−0.05,0.00,0.05,0.10},
]
\addplot[lr] coordinates {
(0,0.0)(5,0.008)(10,0.015)(15,-0.025)(20,0.006)(25,0.036)(30,-0.008)(35,0.01)(40,-0.006)(45,0.012)
(50,-0.01)(55,0.008)(60,-0.005)(65,0.014)(70,-0.008)(75,0.024)(80,-0.01)(85,0.012)(90,-0.006)(95,0.01)
(100,-0.04)(105,0.018)(110,-0.008)(115,0.015)(120,-0.01)(125,0.012)(130,-0.012)(135,0.02)(140,-0.01)(145,0.016)
(150,-0.012)(155,0.02)(160,-0.045)(165,0.036)(170,-0.012)(175,0.02)(180,0.035)(185,-0.015)(190,0.018)(195,-0.01)
(200,0.04)(205,-0.015)(210,0.02)(215,0.07)(220,0.04)(225,-0.053)(230,0.02)(235,-0.012)(240,0.025)(245,0.035)
(250,-0.015)(255,0.02)(260,-0.01)(265,-0.035)(270,0.022)(275,0.035)(280,-0.015)(285,0.02)(290,0.04)(295,-0.012)
(300,-0.04)(305,0.025)(310,-0.015)(315,0.044)(320,-0.018)(325,0.025)(330,-0.012)(335,-0.062)(340,0.048)(345,-0.015)
(350,0.03)(355,-0.02)(360,0.048)(365,-0.015)(370,-0.035)(375,0.04)(380,-0.015)(385,0.025)(390,-0.02)(395,0.03)
(400,0.045)(405,-0.018)(410,0.025)(415,0.04)(420,-0.078)(425,0.03)(430,-0.02)(435,0.035)(440,-0.015)(445,0.03)
(450,-0.035)(455,0.052)(460,0.055)(465,-0.02)(470,0.03)(475,-0.047)(480,0.025)(485,-0.015)(490,0.028)(495,-0.02)
(500,0.028)(505,-0.068)(510,0.02)(515,-0.012)(520,0.018)(525,-0.01)(530,0.015)(535,-0.012)(540,0.02)(545,-0.01)
(550,0.015)(555,-0.037)(560,0.015)(565,-0.01)(570,0.012)(575,-0.008)(580,0.015)(585,0.025)(590,-0.01)(595,0.012)
(600,-0.008)(605,0.015)(610,-0.01)(615,0.012)(620,-0.008)(625,-0.03)(630,0.012)(635,-0.008)(640,0.015)(645,-0.01)
(650,0.012)(655,-0.006)(660,0.01)(665,0.02)(670,-0.008)(675,0.012)(680,-0.01)(685,0.015)(690,-0.006)(695,0.01)
(700,-0.008)(705,-0.023)(710,0.012)(715,-0.008)(720,0.015)(725,-0.01)(730,0.012)(735,-0.006)(740,0.01)(745,-0.008)
(750,0.015)(755,-0.01)(760,0.012)(765,-0.02)(770,0.01)(775,-0.008)(780,0.015)(785,-0.01)(790,0.012)(795,-0.008)
(800,0.015)(805,-0.01)(810,0.018)(815,-0.012)(820,0.015)(825,-0.01)(830,0.02)(835,-0.012)(840,0.015)(845,-0.028)
(850,0.02)(855,0.045)(860,-0.015)(865,0.02)(870,-0.012)(875,0.025)(880,0.036)(885,-0.015)(890,0.02)(895,-0.012)
(900,0.025)(905,-0.015)(910,0.02)(915,-0.018)(920,0.03)(925,-0.015)(930,0.025)(935,-0.02)(940,0.03)(945,-0.02)
(950,-0.05)(955,0.03)(960,-0.025)(965,0.035)(970,-0.03)(975,0.04)(980,-0.045)(985,-0.068)(990,0.035)(995,0.082)
(1000,-0.03)(1005,0.045)(1010,-0.035)(1015,0.04)(1020,0.066)(1025,-0.055)(1030,0.055)(1035,-0.03)(1040,0.04)(1045,0.045)
(1050,-0.06)(1055,0.035)(1060,0.057)(1065,-0.04)(1070,-0.06)(1075,0.044)(1080,-0.101)(1085,0.095)(1090,0.04)(1095,-0.02)
};
\addplot[vr] table[x=d,y=r]{\varD};
\addplot[vy] table[x=d,y=y]{\varD};
\addplot[vb] table[x=d,y=b]{\varD};
\addplot[vg] table[x=d,y=g]{\varD};
\end{axis}
\end{tikzpicture}
\end{document}
